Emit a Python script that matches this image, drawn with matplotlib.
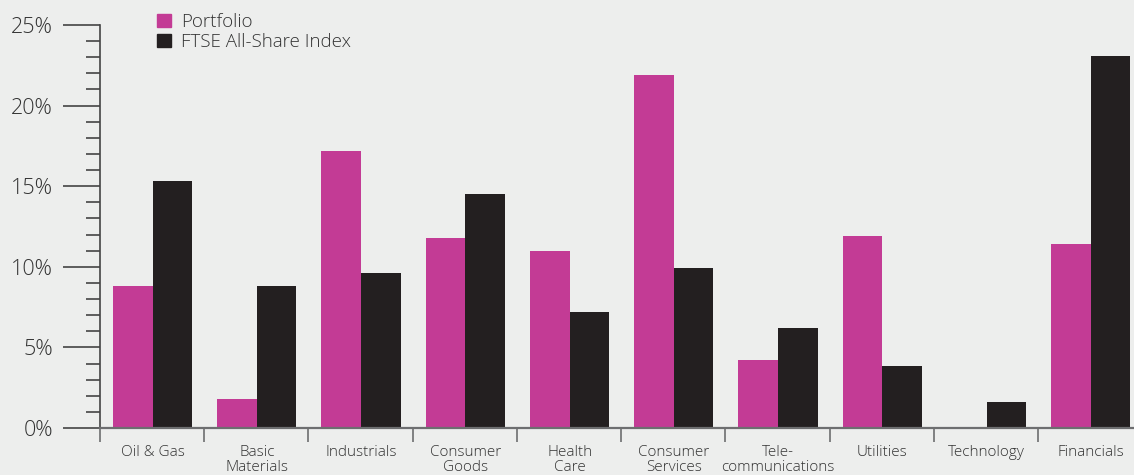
import numpy as np
import matplotlib.pyplot as plt
from matplotlib.ticker import FuncFormatter, MultipleLocator
from matplotlib.patches import Patch

sectors = ['Oil & Gas', 'Basic\nMaterials', 'Industrials', 'Consumer\nGoods', 'Health\nCare',
           'Consumer\nServices', 'Tele-\ncommunications', 'Utilities', 'Technology', 'Financials']
portfolio = [8.8, 1.8, 17.2, 11.8, 11.0, 21.9, 4.2, 11.9, 0.05, 11.4]
ftse = [15.3, 8.8, 9.6, 14.5, 7.2, 9.9, 6.2, 3.85, 1.6, 23.1]

bg = '#edeeed'
pink = '#c33b95'
black = '#231f20'
txt = '#333333'

plt.rcParams['font.family'] = ['Open Sans', 'DejaVu Sans']
plt.rcParams['font.weight'] = 'light'

fig = plt.figure(figsize=(11.34, 4.75), dpi=100, facecolor=bg)
ax = fig.add_axes([100 / 1134, 47 / 475, 1 - 100 / 1134, 403 / 475])
ax.set_facecolor(bg)

x = np.arange(len(sectors)) + 0.505
w = 0.38
ax.bar(x - w / 2, portfolio, w, color=pink, label='Portfolio')
ax.bar(x + w / 2, ftse, w, color=black, label='FTSE All-Share Index')

ax.set_xlim(0, 9.92)
ax.set_ylim(0, 25)

for s in ['top', 'right']:
    ax.spines[s].set_visible(False)
ax.spines['left'].set_color('#444444')
ax.spines['left'].set_linewidth(1.2)
ax.spines['bottom'].set_color('#6d6e70')
ax.spines['bottom'].set_linewidth(1.6)

ax.yaxis.set_major_locator(MultipleLocator(5))
ax.yaxis.set_minor_locator(MultipleLocator(1))
ax.yaxis.set_major_formatter(FuncFormatter(lambda v, p: '%d%%' % v))
ax.tick_params(axis='y', which='major', length=27, width=1.2, color='#444444',
               labelsize=15.5, labelcolor=txt, pad=7)
ax.tick_params(axis='y', which='minor', length=10, width=1.2, color='#444444')

ax.set_xticks(np.arange(len(sectors)))
ax.set_xticklabels([])
ax.set_xticks(x, minor=True)
ax.set_xticklabels(sectors, minor=True)
ax.tick_params(axis='x', which='major', length=10, width=1.2, color='#6d6e70')
ax.tick_params(axis='x', which='minor', length=0, labelsize=11, labelcolor=txt, pad=12)
for lab in ax.get_xticklabels(minor=True):
    lab.set_linespacing(1.0)
    lab.set_verticalalignment('top')

handles = [Patch(color=pink, label='Portfolio'), Patch(color=black, label='FTSE All-Share Index')]
leg = fig.legend(handles=handles, loc='upper left', bbox_to_anchor=(157 / 1134, 1 - 13 / 475),
                 frameon=False, fontsize=13.5, handlelength=0.72, handleheight=0.72,
                 handletextpad=0.55, labelspacing=0.1, borderpad=0, borderaxespad=0)
for t in leg.get_texts():
    t.set_color(txt)

fig.savefig('out.png', dpi=100, facecolor=bg)
